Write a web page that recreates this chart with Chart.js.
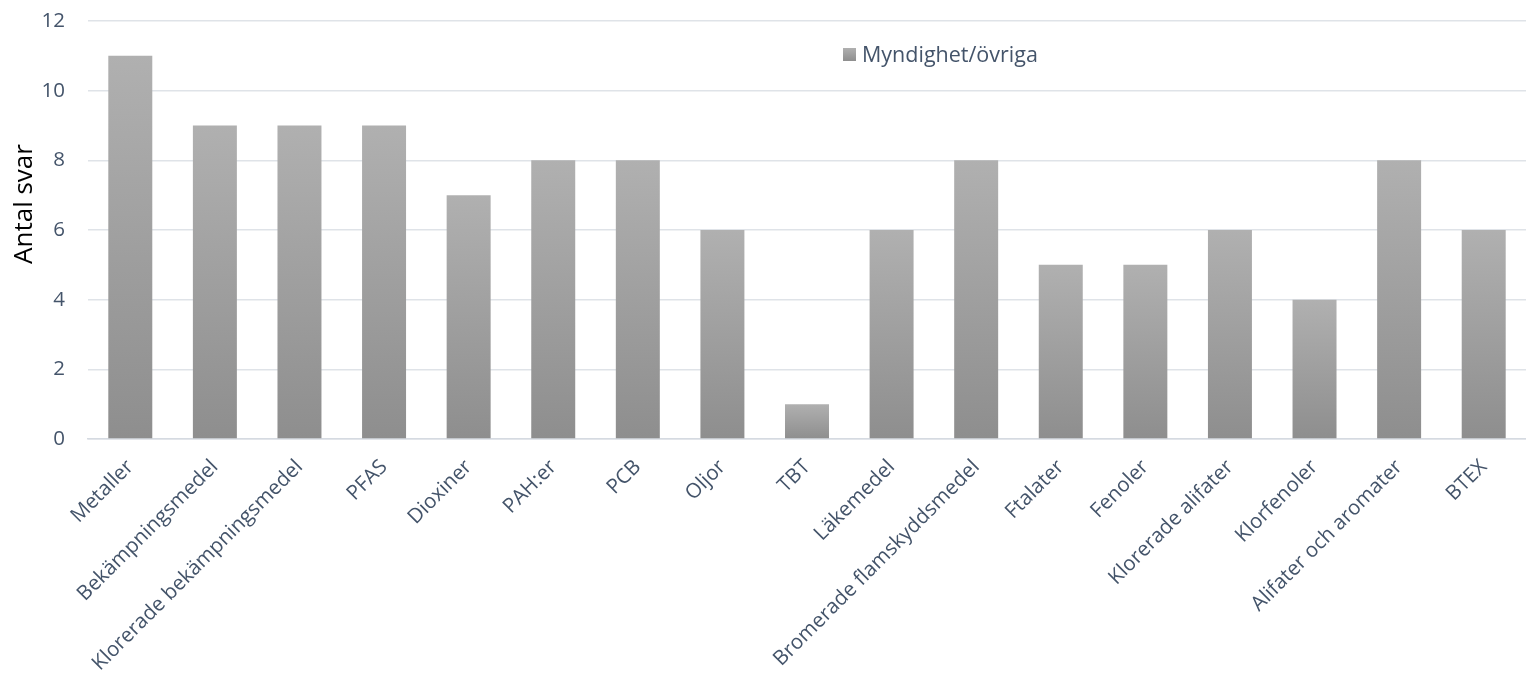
<!DOCTYPE html>
<html>
<head>
<meta charset="utf-8">
<script src="https://cdn.jsdelivr.net/npm/chart.js@4"></script>
<style>
  html, body { margin: 0; padding: 0; background: #fff; }
  #wrap { width: 1526px; height: 677px; position: relative; }
</style>
</head>
<body>
<div id="wrap"><canvas id="chart"></canvas></div>
<script>
const categories = [
  "Metaller", "Bekämpningsmedel", "Klorerade bekämpningsmedel", "PFAS",
  "Dioxiner", "PAH:er", "PCB", "Oljor", "TBT", "Läkemedel",
  "Bromerade flamskyddsmedel", "Ftalater", "Fenoler", "Klorerade alifater",
  "Klorfenoler", "Alifater och aromater", "BTEX"
];
const seriesName = "Myndighet/övriga";
const answers = [11, 9, 9, 9, 7, 8, 8, 6, 1, 6, 8, 5, 5, 6, 4, 8, 6];
const yTicks = [0, 2, 4, 6, 8, 10, 12];
const yTitle = "Antal svar";

const FONT = "'Open Sans', sans-serif";
const TICK_COLOR = "#44546a";
const GRID_COLOR = "#dfe3e8";

function barGradient(ctx) {
  const chart = ctx.chart;
  if (!chart.chartArea || !chart.scales.y) return "#a0a0a0";
  const y = chart.scales.y;
  const top = y.getPixelForValue(ctx.raw);
  const base = y.getPixelForValue(0);
  const g = chart.ctx.createLinearGradient(0, top, 0, base);
  g.addColorStop(0, "#b0b0b0");
  g.addColorStop(1, "#8e8e8e");
  return g;
}

// legend inside the plot area and the axis title sitting a bit above centre, like the original
const extras = {
  id: "extras",
  afterDraw(chart) {
    const c = chart.ctx;
    const x = 843, y = 48, s = 13;
    c.save();
    const g = c.createLinearGradient(0, y, 0, y + s);
    g.addColorStop(0, "#b0b0b0");
    g.addColorStop(1, "#8e8e8e");
    c.fillStyle = g;
    c.fillRect(x, y, s, s);
    c.fillStyle = TICK_COLOR;
    c.font = "21.5px " + FONT;
    c.textBaseline = "middle";
    c.textAlign = "left";
    c.fillText(chart.data.datasets[0].label, x + s + 6, y + s / 2 + 1);

    c.translate(25, 204);
    c.rotate(-Math.PI / 2);
    c.fillStyle = "#000";
    c.font = "26px " + FONT;
    c.textAlign = "center";
    c.fillText(yTitle, 0, 0);
    c.restore();
  }
};

new Chart(document.getElementById("chart"), {
  type: "bar",
  data: {
    labels: categories,
    datasets: [{
      label: seriesName,
      data: answers,
      backgroundColor: barGradient,
      categoryPercentage: 1,
      barPercentage: 0.52
    }]
  },
  options: {
    responsive: true,
    maintainAspectRatio: false,
    animation: false,
    layout: { padding: { top: 21, right: 0, left: 8, bottom: 0 } },
    plugins: {
      legend: { display: false },
      tooltip: { enabled: false }
    },
    scales: {
      x: {
        grid: { display: false, drawTicks: false },
        border: { display: true, color: "#d5dae1", width: 1.5 },
        ticks: {
          color: TICK_COLOR,
          font: { family: FONT, size: 20.5 },
          minRotation: 45,
          maxRotation: 45,
          autoSkip: false,
          padding: 16
        },
        afterFit(scale) {
          scale.height = 238;
          scale.paddingTop = 0;
        }
      },
      y: {
        min: 0,
        max: 12,
        afterBuildTicks(scale) { scale.ticks = yTicks.map(v => ({ value: v })); },
        grid: { color: GRID_COLOR, lineWidth: 1.5, drawTicks: false },
        border: { display: false },
        ticks: {
          color: TICK_COLOR,
          font: { family: FONT, size: 20.5 },
          padding: 23
        },
        afterFit(scale) {
          scale.width = 80;
          scale.paddingTop = 0;
          scale.paddingBottom = 0;
        }
      }
    }
  },
  plugins: [extras]
});
</script>
</body>
</html>
